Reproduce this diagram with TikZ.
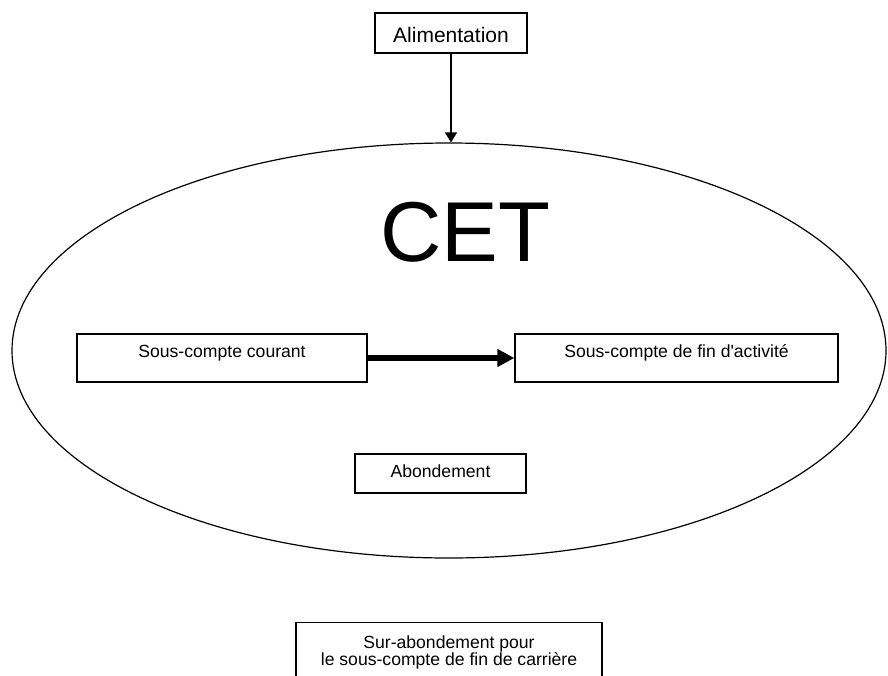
\documentclass[tikz,border=0pt]{standalone}
\usepackage{fontspec}
\setmainfont{Liberation Sans}
\usetikzlibrary{shapes.geometric,arrows.meta}

\begin{document}
\begin{tikzpicture}[
        x=1pt, y=-1pt,
        boite/.style={rectangle, draw, line width=1.3pt, inner sep=0pt},
        petit/.style={font=\fontsize{17.6}{17}\selectfont}
        ]
        \clip (0,0) rectangle (888,675);
        \node[ellipse, draw, line width=1.2pt, minimum width=874pt, minimum height=415pt] (cet) at (449,350.5) {};
        \node[anchor=base, font=\fontsize{85}{85}\selectfont] (titre) at (465,261) {CET};
        \node[boite, minimum width=152pt, text height=29pt, text depth=11pt, font=\fontsize{21}{21}\selectfont] (alim) at (451,33) {Alimentation};
        \node[boite, petit, minimum width=290pt, text height=23pt, text depth=25pt] (courant) at (222,358) {Sous-compte courant};
        \node[boite, petit, minimum width=323pt, text height=23pt, text depth=25pt] (fin) at (676.5,358) {Sous-compte de fin d\textquotesingle activité};
        \node[boite, petit, minimum width=171pt, text height=23pt, text depth=16pt] (abond) at (440.5,473.5) {Abondement};
        \node[boite, petit, anchor=north, minimum width=306pt, inner ysep=13pt, text depth=40pt, align=center] (sur) at (449,622) {Sur-abondement pour\\le sous-compte de fin de carrière};
        \draw[-{Triangle[length=10pt,width=12pt]}, line width=1.4pt] (alim.south) -- (alim.south |- cet.north);
        \draw[-{Triangle[length=17pt,width=17pt]}, line width=5.5pt] (courant) -- (fin);
\end{tikzpicture}
\end{document}
